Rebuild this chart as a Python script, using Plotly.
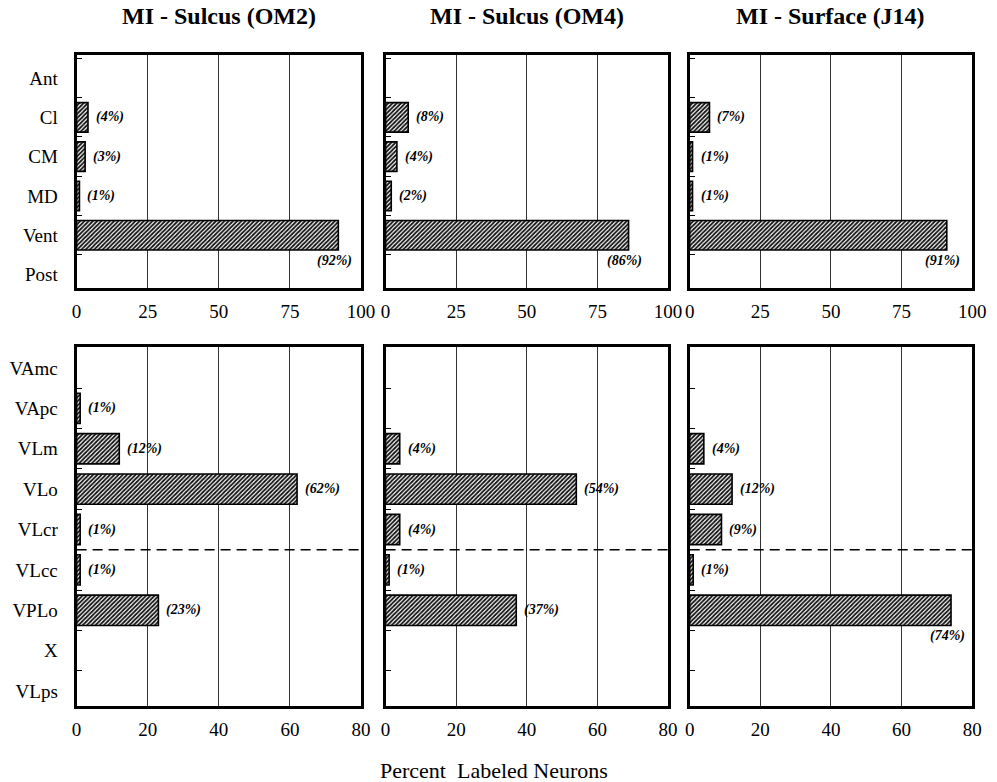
import plotly.graph_objects as go

# ---- data ----
panel_titles = ["MI - Sulcus (OM2)", "MI - Sulcus (OM4)", "MI - Surface (J14)"]

top_categories = ["Ant", "Cl", "CM", "MD", "Vent", "Post"]
top_om2 = [None, 4, 3, 1, 92, None]
top_om4 = [None, 8, 4, 2, 86, None]
top_j14 = [None, 7, 1, 1, 91, None]
top_ticks = [0, 25, 50, 75, 100]

bottom_categories = ["VAmc", "VApc", "VLm", "VLo", "VLcr", "VLcc", "VPLo", "X", "VLps"]
bottom_om2 = [None, 1, 12, 62, 1, 1, 23, None, None]
bottom_om4 = [None, None, 4, 54, 4, 1, 37, None, None]
bottom_j14 = [None, None, 4, 12, 9, 1, 74, None, None]
bottom_ticks = [0, 20, 40, 60, 80]

x_title = "Percent  Labeled Neurons"

FONT = '"Liberation Serif", "Times New Roman", serif'
W, H = 997, 782

fig = go.Figure()

col_px = [(73, 363), (388, 676), (698, 986)]
row_px = [(55, 288), (347, 706)]

def xd(a, b):
    return [a / W, b / W]

def yd(top, bottom):
    return [1 - bottom / H, 1 - top / H]

rows = [
    (top_categories, [top_om2, top_om4, top_j14], top_ticks, [5.34, -0.585]),
    (bottom_categories, [bottom_om2, bottom_om4, bottom_j14], bottom_ticks, [8.37, -0.52]),
]

annotations = []
shapes = []
idx = 0
for r, (cats, series, ticks, yrange) in enumerate(rows):
    xmax = ticks[-1]
    for c in range(3):
        idx += 1
        xa = "x" if idx == 1 else f"x{idx}"
        ya = "y" if idx == 1 else f"y{idx}"
        xkey = "xaxis" if idx == 1 else f"xaxis{idx}"
        ykey = "yaxis" if idx == 1 else f"yaxis{idx}"
        vals = series[c]
        fig.add_trace(go.Bar(
            x=vals, y=cats, orientation="h", xaxis=xa, yaxis=ya,
            width=0.75,
            marker=dict(
                color="#ffffff",
                line=dict(color="#000000", width=1.6),
                pattern=dict(shape="/", fgcolor="#111111", bgcolor="#ffffff",
                             size=3, solidity=0.6, fillmode="replace"),
            ),
            showlegend=False, hoverinfo="skip",
        ))
        fig.layout[xkey] = dict(
            domain=xd(*col_px[c]), anchor=ya, range=[0, xmax],
            tickvals=ticks, ticktext=[str(t) for t in ticks],
            showgrid=True, gridcolor="#333333", gridwidth=1,
            zeroline=False, showline=True, linecolor="#000000", linewidth=3,
            mirror=True, ticks="", ticklabelstandoff=4,
            tickfont=dict(family=FONT, size=19, color="#000000"),
            fixedrange=True,
        )
        fig.layout[ykey] = dict(
            domain=yd(*row_px[r]), anchor=xa, type="category",
            categoryorder="array", categoryarray=cats,
            range=yrange, showgrid=False, zeroline=False,
            showline=True, linecolor="#000000", linewidth=3, mirror=True,
            ticks="inside", ticklen=5, tickwidth=1, tickcolor="#000000",
            tickson="boundaries", showticklabels=(c == 0),
            ticklabelstandoff=12,
            tickfont=dict(family=FONT, size=19, color="#000000"),
            fixedrange=True,
        )
        for cat, v in zip(cats, vals):
            if v is None:
                continue
            txt = f"<b><i>({v}%)</i></b>"
            if v / xmax > 0.85:
                annotations.append(dict(
                    x=v, y=cat, xref=xa, yref=ya, text=txt, showarrow=False,
                    xanchor="center", yanchor="middle", xshift=-4, yshift=-26,
                    font=dict(family=FONT, size=14, color="#000000"),
                ))
            else:
                annotations.append(dict(
                    x=v, y=cat, xref=xa, yref=ya, text=txt, showarrow=False,
                    xanchor="left", yanchor="middle", xshift=6,
                    font=dict(family=FONT, size=14, color="#000000"),
                ))
        if r == 1:
            shapes.append(dict(
                type="line", xref=f"{xa} domain", yref=ya,
                x0=0, x1=1, y0=4.5, y1=4.5,
                line=dict(color="#000000", width=1.5, dash="10px,6px"),
            ))
        if r == 0:
            annotations.append(dict(
                x=sum(col_px[c]) / 2 / W, y=1 - 16 / H, xref="paper", yref="paper",
                text=f"<b>{panel_titles[c]}</b>", showarrow=False,
                xanchor="center", yanchor="middle",
                font=dict(family=FONT, size=24, color="#000000"),
            ))

annotations.append(dict(
    x=498 / W, y=1 - 770 / H, xref="paper", yref="paper", text=x_title,
    showarrow=False, xanchor="center", yanchor="middle",
    font=dict(family=FONT, size=22, color="#000000"),
))

fig.update_layout(
    width=W, height=H, margin=dict(l=0, r=0, t=0, b=0),
    paper_bgcolor="#ffffff", plot_bgcolor="#ffffff",
    bargap=0.25, annotations=annotations, shapes=shapes,
    font=dict(family=FONT, color="#000000"),
)

fig.write_html(
    "out.html",
    config={"displayModeBar": False},
    post_script="document.body.style.margin='0';document.body.style.overflow='hidden';",
)
